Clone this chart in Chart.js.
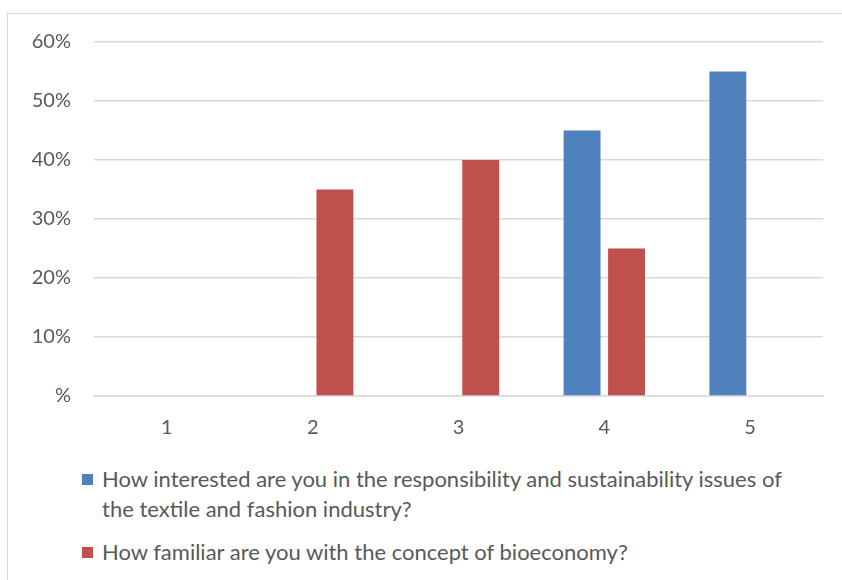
<!DOCTYPE html>
<html>
<head>
<meta charset="utf-8">
<script src="https://cdn.jsdelivr.net/npm/chart.js@4/dist/chart.umd.min.js"></script>
<style>
  html, body { margin: 0; padding: 0; background: #fff; }
  body { width: 842px; height: 580px; position: relative; overflow: hidden; font-family: Lato, "Open Sans", sans-serif; }
  #frame { position: absolute; left: 7px; top: 13px; width: 860px; height: 600px; border: 1px solid #d9d9d9; box-sizing: border-box; }
  #wrap { position: absolute; left: 0; top: 0; width: 842px; height: 450px; }
  #legend { position: absolute; left: 82px; top: 464px; width: 750px; color: #595959; font-size: 22px; line-height: 30px; }
  .item { position: relative; padding-left: 20px; margin-bottom: 13px; white-space: nowrap; }
  .sw { position: absolute; left: 0; top: 10px; width: 11px; height: 11px; }
</style>
</head>
<body>
<div id="frame"></div>
<div id="wrap"><canvas id="c" width="842" height="450"></canvas></div>
<div id="legend"></div>
<script>
const categories = ['1', '2', '3', '4', '5'];
const seriesNames = [
  'How interested are you in the responsibility and sustainability issues of the textile and fashion industry?',
  'How familiar are you with the concept of bioeconomy?'
];
const interested = [0, 0, 0, 45, 55];
const familiar = [0, 35, 40, 25, 0];
const colors = ['#4f81bd', '#c0504d'];

const ctx = document.getElementById('c').getContext('2d');
new Chart(ctx, {
  type: 'bar',
  data: {
    labels: categories,
    datasets: [
      { label: seriesNames[0], data: interested, backgroundColor: colors[0], categoryPercentage: 0.61, barPercentage: 0.83 },
      { label: seriesNames[1], data: familiar, backgroundColor: colors[1], categoryPercentage: 0.61, barPercentage: 0.83 }
    ]
  },
  options: {
    responsive: false,
    animation: false,
    layout: { padding: { left: 0, right: 19, top: 42, bottom: 0 } },
    plugins: { legend: { display: false }, tooltip: { enabled: false } },
    scales: {
      x: {
        grid: { display: false, drawTicks: false },
        border: { display: true, color: '#d9d9d9', width: 1.5 },
        ticks: { color: '#595959', font: { family: 'Lato', size: 20 }, padding: 20 },
        afterFit: s => { s.height = 54; }
      },
      y: {
        min: 0, max: 60,
        ticks: { stepSize: 10, color: '#595959', font: { family: 'Lato', size: 20 }, padding: 23,
          callback: v => v === 0 ? '%' : v + '%' },
        grid: { color: '#d9d9d9', lineWidth: 1.5, drawTicks: false },
        border: { display: false },
        afterFit: s => { s.width = 94; }
      }
    }
  }
});

const lg = document.getElementById('legend');
const texts = [
  'How interested are you in the responsibility and sustainability issues of<br>the textile and fashion industry?',
  seriesNames[1]
];
texts.forEach((t, i) => {
  const d = document.createElement('div');
  d.className = 'item';
  d.innerHTML = '<span class="sw" style="background:' + colors[i] + '"></span>' + t;
  lg.appendChild(d);
});
</script>
</body>
</html>
